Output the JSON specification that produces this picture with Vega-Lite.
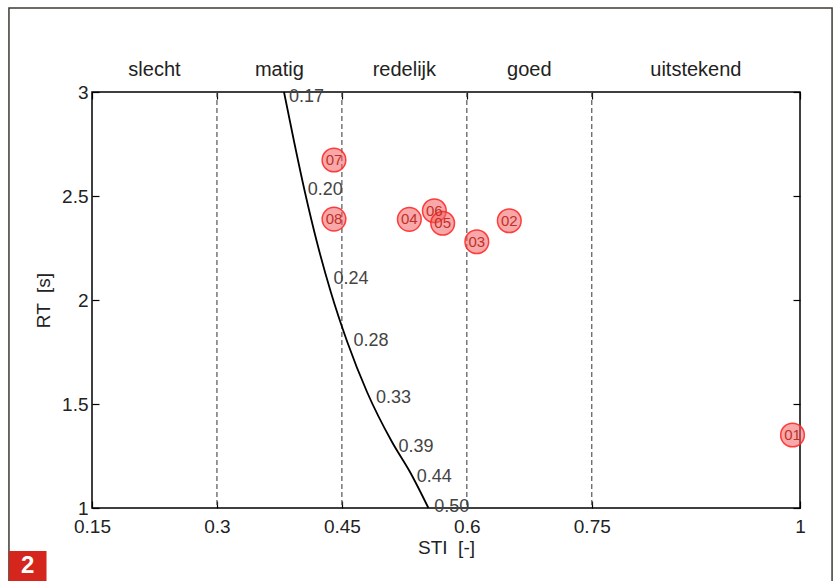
{
  "$schema": "https://vega.github.io/schema/vega-lite/v6.json",
  "width": 708,
  "height": 416,
  "autosize": "none",
  "padding": {"left": 92, "top": 92, "right": 39, "bottom": 73},
  "background": "white",
  "config": {
    "view": {"stroke": "#000", "strokeWidth": 1.5},
    "font": "Liberation Sans",
    "axis": {"grid": false, "domain": false, "labelFontSize": 19, "titleFontSize": 19, "titleFontWeight": "normal", "labelColor": "#222", "titleColor": "#222", "tickColor": "#000", "tickWidth": 1.2, "labelFlush": false, "labelOverlap": false}
  },
  "datasets": {
    "curve": [
      {"sti": 0.3805, "rt": 3.0},
      {"sti": 0.3927, "rt": 2.7596},
      {"sti": 0.4056, "rt": 2.5192},
      {"sti": 0.42, "rt": 2.2788},
      {"sti": 0.4367, "rt": 2.0385},
      {"sti": 0.4565, "rt": 1.7981},
      {"sti": 0.4802, "rt": 1.5577},
      {"sti": 0.5102, "rt": 1.3173},
      {"sti": 0.5318, "rt": 1.1731},
      {"sti": 0.5539, "rt": 1.0}
    ],
    "curveLabels": [
      {"sti": 0.3865, "rt": 2.976, "label": "0.17"},
      {"sti": 0.409, "rt": 2.529, "label": "0.20"},
      {"sti": 0.44, "rt": 2.101, "label": "0.24"},
      {"sti": 0.464, "rt": 1.803, "label": "0.28"},
      {"sti": 0.491, "rt": 1.527, "label": "0.33"},
      {"sti": 0.518, "rt": 1.295, "label": "0.39"},
      {"sti": 0.54, "rt": 1.15, "label": "0.44"},
      {"sti": 0.561, "rt": 1.006, "label": "0.50"}
    ],
    "bounds": [{"sti": 0.3}, {"sti": 0.45}, {"sti": 0.6}, {"sti": 0.75}],
    "classes": [
      {"sti": 0.225, "label": "slecht"},
      {"sti": 0.375, "label": "matig"},
      {"sti": 0.525, "label": "redelijk"},
      {"sti": 0.675, "label": "goed"},
      {"sti": 0.875, "label": "uitstekend"}
    ],
    "points": [
      {"id": "08", "sti": 0.4405, "rt": 2.389},
      {"id": "07", "sti": 0.4405, "rt": 2.673},
      {"id": "06", "sti": 0.561, "rt": 2.429},
      {"id": "05", "sti": 0.571, "rt": 2.369},
      {"id": "04", "sti": 0.531, "rt": 2.388},
      {"id": "03", "sti": 0.612, "rt": 2.28},
      {"id": "02", "sti": 0.651, "rt": 2.381},
      {"id": "01", "sti": 0.991, "rt": 1.351}
    ]
  },
  "resolve": {"axis": {"x": "independent", "y": "independent"}},
  "layer": [
    {
      "data": {"values": [{}]},
      "mark": {"type": "rect", "fill": null, "stroke": "#3d3a30", "strokeWidth": 1.5},
      "encoding": {
        "x": {"datum": 0.0503, "type": "quantitative", "scale": {"domain": [0.15, 1], "nice": false, "zero": false}, "axis": null},
        "x2": {"datum": 1.0385},
        "y": {"datum": 3.404, "type": "quantitative", "scale": {"domain": [1, 3], "nice": false, "zero": false}, "axis": null},
        "y2": {"datum": 0.55}
      }
    },
    {
      "data": {"values": [{}]},
      "mark": {"type": "rect", "fill": "#d4261c"},
      "encoding": {
        "x": {"datum": 0.0503, "type": "quantitative", "scale": {"domain": [0.15, 1], "nice": false, "zero": false}, "axis": null},
        "x2": {"datum": 0.0954},
        "y": {"datum": 0.7933, "type": "quantitative", "scale": {"domain": [1, 3], "nice": false, "zero": false}, "axis": null},
        "y2": {"datum": 0.55}
      }
    },
    {
      "data": {"values": [{}]},
      "mark": {"type": "text", "text": "2", "color": "white", "fontSize": 24, "fontWeight": "bold", "font": "Liberation Sans", "baseline": "middle", "align": "center"},
      "encoding": {
        "x": {"datum": 0.0728, "type": "quantitative", "scale": {"domain": [0.15, 1], "nice": false, "zero": false}, "axis": null},
        "y": {"datum": 0.721, "type": "quantitative", "scale": {"domain": [1, 3], "nice": false, "zero": false}, "axis": null}
      }
    },
    {
      "data": {"name": "bounds"},
      "mark": {"type": "rule", "stroke": "#555", "strokeWidth": 1.2, "strokeDash": [5, 3]},
      "encoding": {
        "x": {"field": "sti", "type": "quantitative", "scale": {"domain": [0.15, 1], "nice": false, "zero": false}, "axis": null}
      }
    },
    {
      "data": {"name": "curve"},
      "mark": {"type": "line", "color": "#000", "strokeWidth": 1.8, "interpolate": "monotone"},
      "encoding": {
        "x": {"field": "sti", "type": "quantitative", "scale": {"domain": [0.15, 1], "nice": false, "zero": false},
              "axis": {"orient": "bottom", "values": [0.15, 0.3, 0.45, 0.6, 0.75, 1], "format": ".2~f", "title": "STI \u00a0[-]", "tickSize": -7, "labelPadding": 16, "titlePadding": 2}},
        "y": {"field": "rt", "type": "quantitative", "scale": {"domain": [1, 3], "nice": false, "zero": false},
              "axis": {"orient": "left", "values": [1, 1.5, 2, 2.5, 3], "format": ".1~f", "title": "RT \u00a0[s]", "tickSize": -7, "labelPadding": 11, "titlePadding": 8}}
      }
    },
    {
      "data": {"name": "curveLabels"},
      "mark": {"type": "text", "align": "left", "baseline": "middle", "fontSize": 18, "color": "#444"},
      "encoding": {
        "x": {"field": "sti", "type": "quantitative", "scale": {"domain": [0.15, 1], "nice": false, "zero": false}, "axis": null},
        "y": {"field": "rt", "type": "quantitative", "scale": {"domain": [1, 3], "nice": false, "zero": false}, "axis": null},
        "text": {"field": "label"}
      }
    },
    {
      "data": {"name": "classes"},
      "mark": {"type": "text", "align": "center", "baseline": "middle", "fontSize": 20, "color": "#222", "dy": -22},
      "encoding": {
        "x": {"field": "sti", "type": "quantitative", "scale": {"domain": [0.15, 1], "nice": false, "zero": false}, "axis": null},
        "y": {"datum": 3, "type": "quantitative", "scale": {"domain": [1, 3], "nice": false, "zero": false}, "axis": null},
        "text": {"field": "label"}
      }
    },
    {
      "data": {"name": "points"},
      "mark": {"type": "circle", "size": 560, "fill": "#f26060", "fillOpacity": 0.55, "stroke": "#ff2a2a", "strokeWidth": 1.5, "strokeOpacity": 0.9},
      "encoding": {
        "x": {"field": "sti", "type": "quantitative", "scale": {"domain": [0.15, 1], "nice": false, "zero": false},
              "axis": {"orient": "top", "values": [0.15, 0.3, 0.45, 0.6, 0.75, 1], "labels": false, "title": null, "tickSize": -7}},
        "y": {"field": "rt", "type": "quantitative", "scale": {"domain": [1, 3], "nice": false, "zero": false},
              "axis": {"orient": "right", "values": [1, 1.5, 2, 2.5, 3], "labels": false, "title": null, "tickSize": -7}}
      }
    },
    {
      "data": {"name": "points"},
      "mark": {"type": "text", "align": "center", "baseline": "middle", "fontSize": 15, "color": "#c0302a"},
      "encoding": {
        "x": {"field": "sti", "type": "quantitative", "scale": {"domain": [0.15, 1], "nice": false, "zero": false}, "axis": null},
        "y": {"field": "rt", "type": "quantitative", "scale": {"domain": [1, 3], "nice": false, "zero": false}, "axis": null},
        "text": {"field": "id"}
      }
    }
  ]
}
